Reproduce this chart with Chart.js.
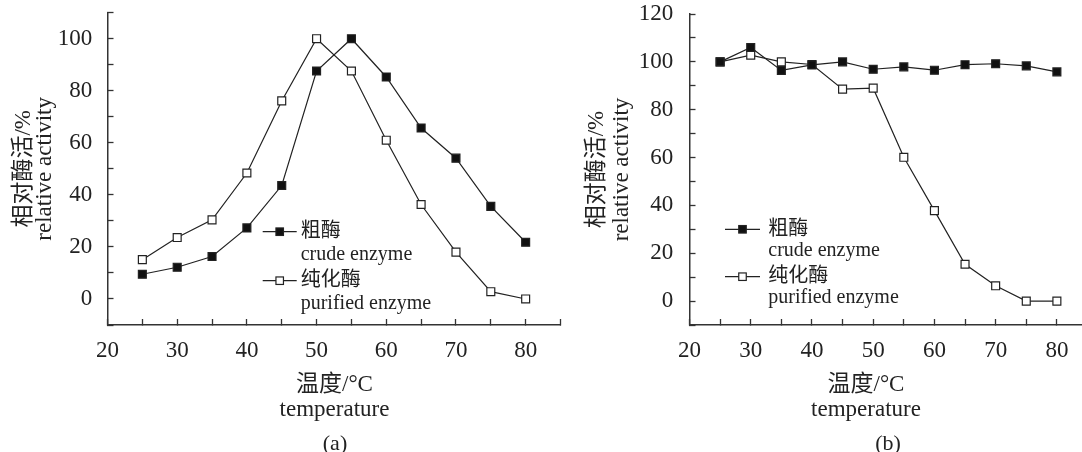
<!DOCTYPE html>
<html>
<head>
<meta charset="utf-8">
<script src="https://cdn.jsdelivr.net/npm/chart.js@4.4.1/dist/chart.umd.min.js"></script>
<style>
html,body{margin:0;padding:0;background:#fff;overflow:hidden;width:1082px;height:452px}
#wrap{position:relative;width:1082px;height:452px;overflow:hidden}
canvas{position:absolute;top:0}
#ca{left:0}
#cb{left:580px}
</style>
</head>
<body>
<div id="wrap">
  <canvas id="ca" width="580" height="452"></canvas>
  <canvas id="cb" width="520" height="452"></canvas>
</div>
<script>
// data
const temps = [25, 30, 35, 40, 45, 50, 55, 60, 65, 70, 75, 80];
const crudeA = [9.5, 12.2, 16.3, 27.3, 43.6, 87.6, 100, 85.3, 65.7, 54.1, 35.6, 21.8];
const purifiedA = [15.1, 23.6, 30.4, 48.4, 76.1, 100, 87.6, 61.0, 36.3, 18.0, 2.8, 0];
const crudeB = [100, 106, 96.4, 98.7, 100, 96.9, 97.9, 96.5, 98.8, 99.2, 98.3, 95.8];
const purifiedB = [100, 102.8, 100, 98.9, 88.6, 89.0, 60.1, 37.8, 15.4, 6.4, 0, 0];

const namesZh = ['粗酶', '纯化酶'];
const namesEn = ['crude enzyme', 'purified enzyme'];
const xTickLabels = [20, 30, 40, 50, 60, 70, 80];
const yTickLabelsA = [0, 20, 40, 60, 80, 100];
const yTickLabelsB = [0, 20, 40, 60, 80, 100, 120];
const yTitle = ['相对酶活/%', 'relative activity'];
const xTitle = ['温度/°C', 'temperature'];

const FONT = '"Liberation Serif", "Noto Sans CJK SC", serif';
const INK = '#222';
Chart.defaults.font.family = FONT;
Chart.defaults.color = INK;

function series(ys, filled) {
  return {
    data: temps.map((t, i) => ({x: t, y: ys[i]})),
    borderColor: INK, borderWidth: 1.2, tension: 0, fill: false,
    pointStyle: 'rect', pointRadius: 5.6, pointHoverRadius: 5.6,
    pointBackgroundColor: filled ? '#111' : '#fff',
    pointBorderColor: INK, pointBorderWidth: 1.2
  };
}

// legend: line + marker, chinese name with english name below
const sideLegend = {
  id: 'sideLegend',
  afterDraw(chart, args, o) {
    const ctx = chart.ctx;
    ctx.save();
    chart.data.datasets.forEach((ds, i) => {
      const y = o.y + i * o.gap;
      ctx.strokeStyle = INK; ctx.lineWidth = 1.2;
      ctx.beginPath(); ctx.moveTo(o.x, y); ctx.lineTo(o.x + o.len, y); ctx.stroke();
      const cx = o.x + o.len / 2, s = o.box;
      ctx.fillStyle = ds.pointBackgroundColor;
      ctx.fillRect(cx - s / 2, y - s / 2, s, s);
      ctx.strokeRect(cx - s / 2, y - s / 2, s, s);
      ctx.fillStyle = INK;
      ctx.font = '20px ' + FONT;
      ctx.textAlign = 'left'; ctx.textBaseline = 'middle';
      ctx.fillText(namesZh[i], o.tx, y);
      ctx.fillText(namesEn[i], o.tx, y + o.sub);
    });
    ctx.restore();
  }
};

// x axis title and panel letter
const captions = {
  id: 'captions',
  afterDraw(chart, args, o) {
    const ctx = chart.ctx;
    ctx.save();
    ctx.fillStyle = INK; ctx.textAlign = 'center'; ctx.textBaseline = 'middle';
    o.items.forEach(it => {
      ctx.font = it.size + 'px ' + FONT;
      ctx.fillText(it.text, it.x, it.y);
    });
    ctx.restore();
  }
};

function makeChart(id, crude, purified, c) {
  new Chart(document.getElementById(id), {
    type: 'line',
    data: {datasets: [series(crude, true), series(purified, false)]},
    plugins: [sideLegend, captions],
    options: {
      responsive: false, animation: false,
      layout: {padding: c.pad},
      plugins: {
        legend: {display: false}, tooltip: {enabled: false},
        sideLegend: c.legend,
        captions: {items: [
          {text: xTitle[0], x: c.capX, y: 385, size: 23},
          {text: xTitle[1], x: c.capX, y: 409.5, size: 23},
          {text: c.letter, x: c.letterX, y: 444, size: 22}
        ]}
      },
      scales: {
        x: {
          type: 'linear', min: 20, max: 85,
          border: {color: '#333', width: 1.5},
          grid: {drawOnChartArea: false, tickLength: -6, tickColor: '#333', tickWidth: 1.3},
          ticks: {stepSize: 5, autoSkip: false, maxRotation: 0, padding: 18.5,
                  font: {size: 23}, color: INK,
                  callback: v => xTickLabels.includes(v) ? String(v) : ''},
          afterFit: s => { s.height = 127; s.paddingLeft = 0; s.paddingRight = 0; }
        },
        y: {
          min: -10, max: c.yMax,
          border: {color: '#333', width: 1.5},
          grid: {drawOnChartArea: false, tickLength: -6, tickColor: '#333', tickWidth: 1.3},
          ticks: {stepSize: 10, autoSkip: false, padding: c.yPad,
                  font: {size: 23}, color: INK,
                  callback: v => c.yLabels.includes(v) ? String(v) : ''},
          title: {display: true, text: yTitle, color: INK,
                  font: {size: 23, lineHeight: c.titleLH + 'px'},
                  padding: {top: c.titlePad, bottom: 0}},
          afterFit: s => { s.width = c.yWidth; s.paddingTop = 0; s.paddingBottom = 0; }
        }
      }
    }
  });
}

makeChart('ca', crudeA, purifiedA, {
  pad: {left: 0, right: 19.5, top: 12.7, bottom: 0},
  yMax: 110, yLabels: yTickLabelsA, yWidth: 107.5, yPad: 21.2,
  titleLH: 21, titlePad: 13.5,
  legend: {x: 262.7, y: 231.7, gap: 49, len: 34, box: 7.5, tx: 300.7, sub: 23},
  capX: 334.5, letter: '(a)', letterX: 335
});

makeChart('cb', crudeB, purifiedB, {
  pad: {left: 0, right: 12.5, top: 14, bottom: 0},
  yMax: 120, yLabels: yTickLabelsB, yWidth: 109.5, yPad: 22.2,
  titleLH: 25, titlePad: 4.5,
  legend: {x: 145, y: 229.3, gap: 47.4, len: 35, box: 7.5, tx: 188.3, sub: 21.5},
  capX: 286, letter: '(b)', letterX: 308
});
</script>
</body>
</html>
